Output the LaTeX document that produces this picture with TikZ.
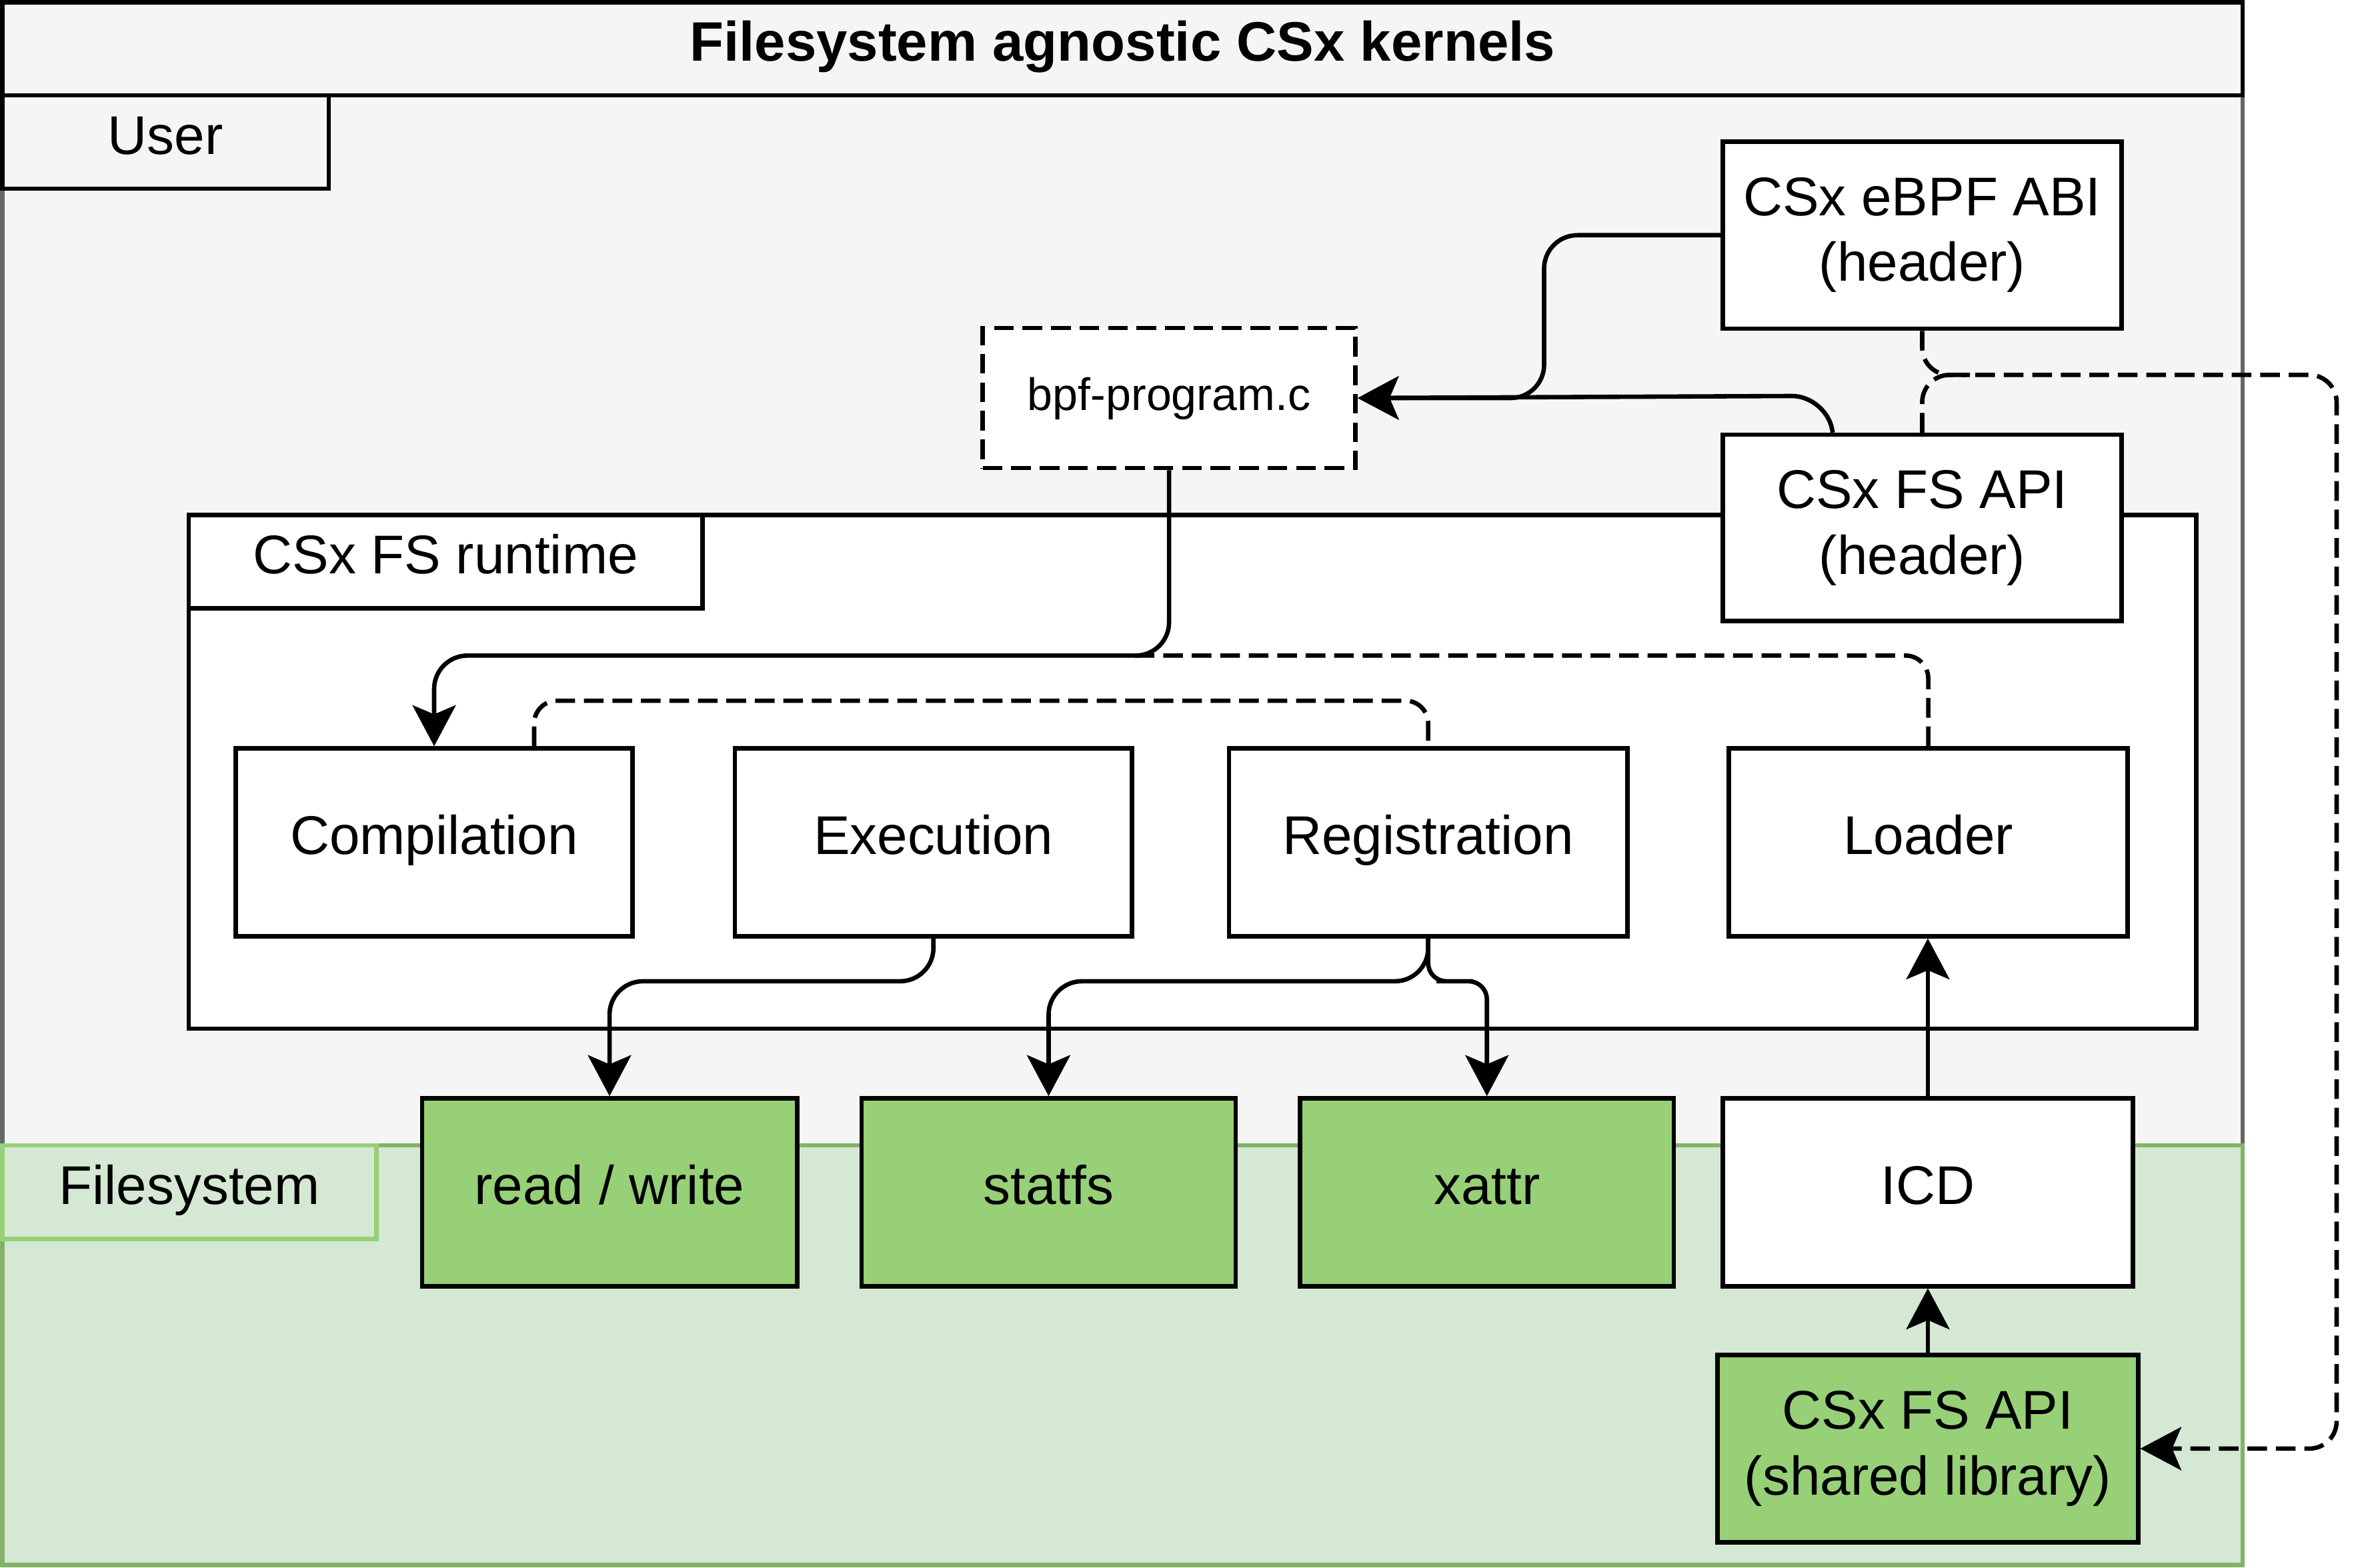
\documentclass[tikz,border=0pt]{standalone}
\usepackage{fontspec}
\setmainfont{Liberation Sans}
\usetikzlibrary{arrows.meta}
\definecolor{usrfill}{HTML}{F5F5F5}
\definecolor{usrline}{HTML}{666666}
\definecolor{fsfill}{HTML}{D5E8D4}
\definecolor{fsline}{HTML}{82B366}
\definecolor{grn}{HTML}{97D077}
\begin{document}
\begin{tikzpicture}[x=1pt,y=-1pt,
  lw/.style={line width=2.9pt},
  bigtxt/.style={font=\fontsize{36}{43.2}\selectfont},
  box/.style={draw, lw, rectangle, inner sep=0pt, fill=white, bigtxt, text height=25pt, text depth=9pt},
  boxtwo/.style={draw, lw, rectangle, inner sep=0pt, fill=white, bigtxt, align=center},
  dashpat/.style={dash pattern=on 13pt off 5.8pt},
  tip/.style={-{Stealth[length=27pt,width=28.5pt,inset=6pt]}},
  conn/.style={lw, rounded corners=22pt, tip},
  dline/.style={lw, dashpat, rounded corners=15pt},
  darrow/.style={lw, dashpat, rounded corners=18pt, tip}
]
\useasboundingbox (0,0) rectangle (1568,1035);
% regions
\draw[lw, draw=usrline, fill=usrfill] (1.5,63) rectangle (1480,756);
\draw[lw, draw=fsline, fill=fsfill] (1.5,756) rectangle (1480,1033);
\node[box, fill=usrfill, minimum width=1478.5pt, minimum height=61.5pt,
      font=\fontsize{36.7}{44}\selectfont\bfseries] (title) at (740.75,32.25) {Filesystem agnostic CSx kernels};
\node[box, fill=usrfill, minimum width=215.5pt, minimum height=61.5pt] (userlbl) at (109.25,93.75) {User};
\node[box, draw=grn, fill=fsfill, minimum width=247pt, minimum height=62pt] (fslbl) at (125,787) {Filesystem};
% runtime container
\draw[lw, fill=white] (124.5,340) rectangle (1449.5,679);
\node[box, minimum width=339pt, minimum height=61.5pt] (rtlbl) at (294,370.75) {CSx FS runtime};
% top boxes
\node[boxtwo, minimum width=263pt, minimum height=123.5pt] (ebpf) at (1268.5,155.25) {CSx eBPF ABI\\(header)};
\node[box, dashpat, minimum width=246pt, minimum height=92.5pt,
      font=\fontsize{30}{36}\selectfont, text height=22pt, text depth=6pt] (bpf) at (771.5,262.75) {bpf-program.c};
\node[boxtwo, minimum width=263pt, minimum height=123pt] (hdr) at (1268.5,348.5) {CSx FS API\\(header)};
% runtime boxes
\node[box, minimum width=262pt, minimum height=124pt] (comp) at (286.5,556) {Compilation};
\node[box, minimum width=262pt, minimum height=124pt] (exec) at (616,556) {Execution};
\node[box, minimum width=263pt, minimum height=124pt] (reg) at (942.5,556) {Registration};
\node[box, minimum width=263pt, minimum height=124pt] (loader) at (1272.5,556) {Loader};
% filesystem boxes
\node[box, fill=grn, minimum width=247.5pt, minimum height=124pt] (rw) at (402.25,787) {read / write};
\node[box, fill=grn, minimum width=247pt, minimum height=124pt] (statfs) at (692,787) {statfs};
\node[box, fill=grn, minimum width=246.5pt, minimum height=124pt] (xattr) at (981.25,787) {xattr};
\node[box, minimum width=270.5pt, minimum height=124pt] (icd) at (1272.25,787) {ICD};
\node[boxtwo, fill=grn, minimum width=277.5pt, minimum height=123.5pt] (shared) at (1272.25,956.25) {CSx FS API\\(shared library)};
% connectors
\draw[conn] (ebpf.west) -- (1019,155.25) -- (1019,262.75) -- (bpf.east);
\draw[conn] ([xshift=-59pt]hdr.north) -- ++(-5,-24.25) -- (bpf.east);
\draw[conn] (bpf.south) |- (700,432.75) -| (comp.north);
\draw[dline] ([xshift=66pt]comp.north) -- ++(0,-30) -| (reg.north);
\coordinate (ldend) at (748,432.75);
\draw[dline] (loader.north) |- (ldend);
\coordinate (merge) at (1300,247.5);
\draw[darrow] (ebpf.south) -- (1268.5,247.5) -- (1542,247.5) |- (shared.east);
\draw[dline, rounded corners=18pt] (hdr.north) -- (1268.5,247.5) -- (merge);
\draw[conn] (exec.south) |- (500,647.75) -| (rw.north);
\draw[conn] (reg.south) |- (800,647.75) -| (statfs.north);
\draw[conn, rounded corners=12pt] (reg.south) |- (960,647.75) -| (xattr.north);
\draw[conn] (icd.north) -- (icd.north |- loader.south);
\draw[conn] (shared.north) -- (icd.south);
\end{tikzpicture}
\end{document}
